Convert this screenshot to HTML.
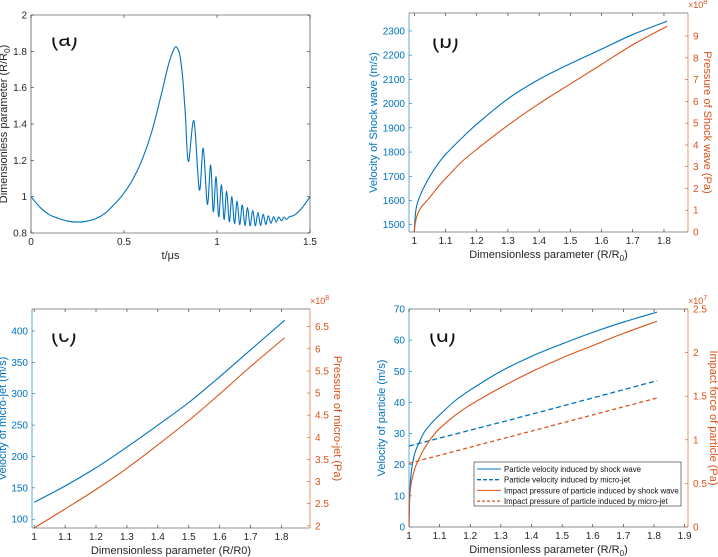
<!DOCTYPE html>
<html><head><meta charset="utf-8"><style>
html,body{margin:0;padding:0;background:#fff;}
svg{display:block;font-family:"Liberation Sans",Arial,sans-serif;}
</style></head><body>
<svg id="fig" width="718" height="557" viewBox="0 0 718 557"></svg>
<script>
// ---- Panel (a) data ----
const aT = [0,0.05,0.1,0.15,0.2,0.25,0.3,0.35,0.4,0.45,0.5,0.55,0.6,0.65,0.7,0.74,0.77,0.785,0.8,0.815,0.83,0.846,0.876,0.905,0.926,0.948,0.966,0.980,0.995,1.009,1.024,1.038,1.052,1.066,1.080,1.094,1.108,1.122,1.136,1.150,1.164,1.178,1.192,1.206,1.220,1.234,1.248,1.262,1.276,1.290,1.304,1.318,1.332,1.346,1.36,1.374,1.39,1.41,1.43,1.45,1.47,1.49,1.5];
const aR = [1.0,0.94,0.9,0.88,0.865,0.86,0.865,0.88,0.91,0.96,1.02,1.1,1.21,1.36,1.56,1.73,1.815,1.82,1.78,1.66,1.45,1.193,1.417,1.037,1.266,0.958,1.174,0.917,1.110,0.89,1.065,0.875,1.03,0.862,1.0,0.852,0.975,0.846,0.955,0.842,0.94,0.84,0.925,0.84,0.913,0.842,0.903,0.847,0.895,0.853,0.89,0.86,0.888,0.868,0.888,0.875,0.89,0.895,0.91,0.93,0.955,0.985,1.0];
const aXTicks = [0,0.5,1,1.5];
const aYTicks = [0.8,1,1.2,1.4,1.6,1.8,2];
// ---- Panel (b) data ----
const bX = [1.0,1.002,1.005,1.01,1.02,1.035,1.05,1.075,1.1,1.15,1.2,1.3,1.4,1.5,1.6,1.7,1.81];
const bVel = [1470,1520,1560,1590,1625,1665,1700,1750,1790,1855,1915,2020,2100,2165,2225,2285,2340];
const bPres = [0,0.3,0.55,0.8,1.1,1.35,1.6,2.05,2.45,3.2,3.8,4.9,5.9,6.8,7.7,8.6,9.45];
const bXTicks = [1,1.1,1.2,1.3,1.4,1.5,1.6,1.7,1.8];
const bYTicks = [1500,1600,1700,1800,1900,2000,2100,2200,2300];
const bY2Ticks = [0,1,2,3,4,5,6,7,8,9];
// ---- Panel (c) data ----
const cX = [1.0,1.1,1.2,1.3,1.4,1.5,1.6,1.7,1.81];
const cVel = [127,153,182,215,250,286,327,370,417];
const cPres = [1.95,2.38,2.82,3.3,3.83,4.38,4.98,5.6,6.25];
const cXTicks = [1,1.1,1.2,1.3,1.4,1.5,1.6,1.7,1.8];
const cYTicks = [100,150,200,250,300,350,400];
const cY2Ticks = [2,2.5,3,3.5,4,4.5,5,5.5,6,6.5];
// ---- Panel (d) data ----
const dX = [1.0,1.002,1.005,1.01,1.02,1.035,1.05,1.075,1.1,1.15,1.2,1.3,1.4,1.5,1.6,1.7,1.81];
const dVelShock = [0,10,15,19.5,24,27.5,30.5,33.5,36,40.5,44,50,54.8,58.8,62.5,65.8,69];
const dPresShock = [0,0.3,0.45,0.55,0.68,0.8,0.9,1.03,1.13,1.28,1.4,1.6,1.78,1.94,2.08,2.22,2.36];
const dXLin = [1.0,1.4,1.81];
const dVelJet = [26,36.2,47];
const dPresJet = [0.73,1.1,1.48];
const dXTicks = [1,1.1,1.2,1.3,1.4,1.5,1.6,1.7,1.8,1.9];
const dYTicks = [0,10,20,30,40,50,60,70];
const dY2Ticks = [0,0.5,1,1.5,2,2.5];

const NS = "http://www.w3.org/2000/svg";
const svg = document.getElementById('fig');
const BLUE = "#0072BD", ORANGE = "#D95319", GRAY = "#262626";
function mk(tag, attrs, parent){
  const e = document.createElementNS(NS, tag);
  for (const k in attrs) e.setAttribute(k, attrs[k]);
  (parent||svg).appendChild(e);
  return e;
}
function scale(d0,d1,p0,p1){ return v => p0 + (v-d0)/(d1-d0)*(p1-p0); }
function smoothPath(xs, ys, sx, sy){
  const P = xs.map((x,i)=>[sx(x), sy(ys[i])]);
  let d = "M"+P[0][0].toFixed(2)+","+P[0][1].toFixed(2);
  for (let i=0;i<P.length-1;i++){
    const p0=P[Math.max(i-1,0)], p1=P[i], p2=P[i+1], p3=P[Math.min(i+2,P.length-1)];
    const c1=[p1[0]+(p2[0]-p0[0])/6, p1[1]+(p2[1]-p0[1])/6];
    const c2=[p2[0]-(p3[0]-p1[0])/6, p2[1]-(p3[1]-p1[1])/6];
    d += " C"+c1[0].toFixed(2)+","+c1[1].toFixed(2)+" "+c2[0].toFixed(2)+","+c2[1].toFixed(2)+" "+p2[0].toFixed(2)+","+p2[1].toFixed(2);
  }
  return d;
}
function txt(x,y,s,attrs,name){
  const t = mk('text', Object.assign({x:x,y:y,'font-size':10,fill:GRAY}, attrs||{}));
  t.textContent = s;
  
  
  return t;
}
function fmt(v){ return String(+v.toFixed(3)); }

function panel(o){
  const g = mk('g', {});
  
  
  const {L,R,T,B} = o.box;
  const sx = scale(o.xlim[0],o.xlim[1],L,R);
  const sy = scale(o.ylim[0],o.ylim[1],B,T);
  const sy2 = o.y2lim ? scale(o.y2lim[0],o.y2lim[1],B,T) : null;
  const lc = o.leftColor||GRAY, rc = o.rightColor||GRAY;
  const bx = mk('line',{x1:L,y1:T,x2:R,y2:T,stroke:GRAY,'stroke-width':0.6},g);  
  const bb = mk('line',{x1:L,y1:B,x2:R,y2:B,stroke:GRAY,'stroke-width':0.6},g);  
  const bl = mk('line',{x1:L,y1:T,x2:L,y2:B,stroke:lc,'stroke-width':0.6},g);  
  const br = mk('line',{x1:R,y1:T,x2:R,y2:B,stroke:rc,'stroke-width':0.6},g);  
  o.xticks.forEach(v=>{
    const x = sx(v);
    const t1 = mk('line',{x1:x,y1:B,x2:x,y2:B-3,stroke:GRAY,'stroke-width':0.6},g);
     
    const t2 = mk('line',{x1:x,y1:T,x2:x,y2:T+3,stroke:GRAY,'stroke-width':0.6},g);
     
    txt(x,B+12,fmt(v),{'text-anchor':'middle'},'x-tick-label');
  });
  o.yticks.forEach(v=>{
    const y = sy(v);
    const t1 = mk('line',{x1:L,y1:y,x2:L+3,y2:y,stroke:lc,'stroke-width':0.6},g);
     
    if(!o.y2lim){
      const t2 = mk('line',{x1:R,y1:y,x2:R-3,y2:y,stroke:GRAY,'stroke-width':0.6},g);
       
    }
    txt(L-4,y+3.5,fmt(v),{'text-anchor':'end',fill:lc},'y-tick-label');
  });
  if(o.y2lim){
    o.y2ticks.forEach(v=>{
      const y = sy2(v);
      const t1 = mk('line',{x1:R,y1:y,x2:R-3,y2:y,stroke:rc,'stroke-width':0.6},g);
       
      txt(R+5,y+3.5,fmt(v),{'text-anchor':'start',fill:rc},'y2-tick-label');
    });
    const ex = txt(R,T-5,'×10',{'font-size':9,fill:rc},'exponent-label');
    const sp = mk('tspan',{dy:-4,'font-size':7},ex); sp.textContent = o.exp;
  }
  const xt = txt((L+R)/2,B+26,'',{'text-anchor':'middle','font-size':11},'x-axis-title');
  xt.innerHTML = o.xtitle;
  const ytx = L-o.ytOff;
  const yt = txt(ytx,(T+B)/2,'',{'text-anchor':'middle','font-size':11,fill:lc,transform:`rotate(-90 ${ytx} ${(T+B)/2})`},'y-axis-title');
  yt.innerHTML = o.ytitle;
  if(o.y2title){
    const y2x = R+o.y2Off;
    const y2t = txt(y2x,(T+B)/2,'',{'text-anchor':'middle','font-size':11,fill:rc,transform:`rotate(90 ${y2x} ${(T+B)/2})`},'y2-axis-title');
    y2t.innerHTML = o.y2title;
  }
  const cid = 'clip-'+o.name;
  const cp = mk('clipPath',{id:cid},g);
  mk('rect',{x:o.lab[0]-5,y:o.lab[2],width:40,height:30},cp);
  txt(o.lab[0],o.lab[1],o.letter,{'font-size':22,fill:'#111','clip-path':`url(#${cid})`},'panel-label');
  return {g,sx,sy,sy2};
}
function series(g, xs, ys, sx, sy, color, name, dash){
  const p = mk('path',{d:smoothPath(xs,ys,sx,sy),fill:'none',stroke:color,'stroke-width':dash?1.3:1.1},g);
  if(dash) p.setAttribute('stroke-dasharray',dash);
  
  
  return p;
}

const pa = panel({name:'panel-a',box:{L:31,R:310,T:15,B:233},xlim:[0,1.5],ylim:[0.8,2],
  xticks:aXTicks,yticks:aYTicks,xtitle:'t/μs',ytitle:'Dimensionless parameter (R/R<tspan dy="3" font-size="8">0</tspan><tspan dy="-3">)</tspan>',ytOff:24,
  letter:'(a)',lab:[51,46,37.5]});
series(pa.g,aT,aR,pa.sx,pa.sy,BLUE,'radius-curve');

const pb = panel({name:'panel-b',box:{L:409,R:688,T:13,B:232},xlim:[0.983,1.877],ylim:[1470,2374],y2lim:[0,10.06],
  xticks:bXTicks,yticks:bYTicks,y2ticks:bY2Ticks,exp:'8',leftColor:BLUE,rightColor:ORANGE,
  xtitle:'Dimensionless parameter (R/R<tspan dy="3" font-size="8">0</tspan><tspan dy="-3">)</tspan>',
  ytitle:'Velocity of Shock wave (m/s)',ytOff:32,y2title:'Pressure of Shock wave (Pa)',y2Off:16,
  letter:'(b)',lab:[432,48,38.5]});
series(pb.g,bX,bVel,pb.sx,pb.sy,BLUE,'shock-velocity-line');
series(pb.g,bX,bPres,pb.sx,pb.sy2,ORANGE,'shock-pressure-line');

const pc = panel({name:'panel-c',box:{L:32,R:310,T:309,B:528},xlim:[0.993,1.892],ylim:[86,435],y2lim:[1.95,6.9],
  xticks:cXTicks,yticks:cYTicks,y2ticks:cY2Ticks,exp:'8',leftColor:BLUE,rightColor:ORANGE,
  xtitle:'Dimensionless parameter (R/R0)',ytitle:'Velocity of micro-jet (m/s)',ytOff:26,
  y2title:'Pressure of micro-jet (Pa)',y2Off:24,letter:'(c)',lab:[51,342,333.5]});
series(pc.g,cX,cVel,pc.sx,pc.sy,BLUE,'jet-velocity-line');
series(pc.g,cX,cPres,pc.sx,pc.sy2,ORANGE,'jet-pressure-line');

const pd = panel({name:'panel-d',box:{L:409,R:688,T:309,B:527},xlim:[1,1.911],ylim:[0,70],y2lim:[0,2.5],
  xticks:dXTicks,yticks:dYTicks,y2ticks:dY2Ticks,exp:'7',leftColor:BLUE,rightColor:ORANGE,
  xtitle:'Dimensionless parameter (R/R<tspan dy="3" font-size="8">0</tspan><tspan dy="-3">)</tspan>',
  ytitle:'Velocity of particle (m/s)',ytOff:24,y2title:'Impact force of particle (Pa)',y2Off:22,
  letter:'(d)',lab:[429,342,333.5]});
series(pd.g,dX,dVelShock,pd.sx,pd.sy,BLUE,'particle-velocity-shock-line');
series(pd.g,dXLin,dVelJet,pd.sx,pd.sy,BLUE,'particle-velocity-jet-line','5,3');
series(pd.g,dX,dPresShock,pd.sx,pd.sy2,ORANGE,'impact-pressure-shock-line');
series(pd.g,dXLin,dPresJet,pd.sx,pd.sy2,ORANGE,'impact-pressure-jet-line','4,3');

const lg = mk('g',{});


const lr = mk('rect',{x:474,y:462,width:207,height:44,fill:'#fff',stroke:GRAY,'stroke-width':0.6},lg);
 
const legItems = [
  ['Particle velocity induced by shock wave',BLUE,null],
  ['Particle velocity induced by micro-jet',BLUE,'4,2'],
  ['Impact pressure of particle induced by shock wave',ORANGE,null],
  ['Impact pressure of particle induced by micro-jet',ORANGE,'3,2']
];
legItems.forEach((it,i)=>{
  const y = 469 + i*10.7;
  const ln = mk('line',{x1:477,y1:y,x2:501,y2:y,stroke:it[1],'stroke-width':it[2]?1.3:1},lg);
  if(it[2]) ln.setAttribute('stroke-dasharray',it[2]);
  
  
  const t = txt(504,y+3,it[0],{'font-size':7.8,fill:'#111'},'legend-entry');
  lg.appendChild(t);
});
</script>
</body></html>
